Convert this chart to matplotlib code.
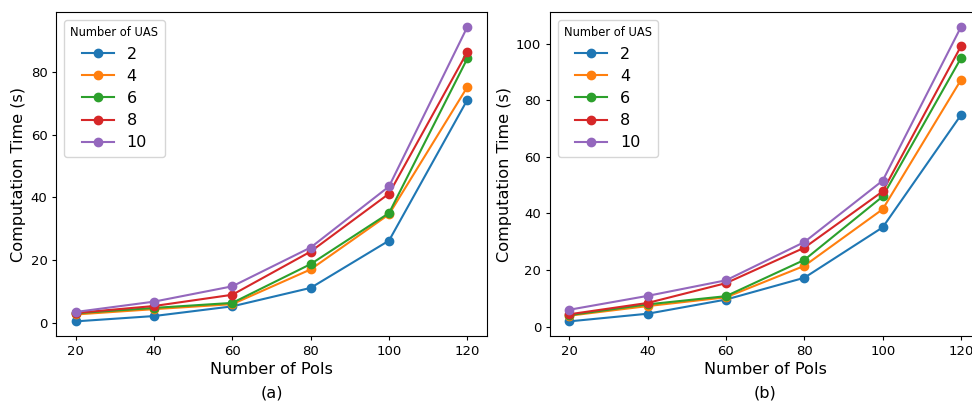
import matplotlib.pyplot as plt

pois = [20, 40, 60, 80, 100, 120]
uas_counts = [2, 4, 6, 8, 10]

# panel (a)
time_a = {
    2:  [0.4, 2.1, 5.2, 11.1, 26.2, 71.2],
    4:  [2.6, 4.3, 5.9, 17.0, 34.6, 75.3],
    6:  [3.0, 4.7, 6.3, 18.7, 35.0, 84.4],
    8:  [3.1, 5.3, 8.9, 22.7, 41.2, 86.5],
    10: [3.4, 6.7, 11.6, 24.0, 43.5, 94.5],
}

# panel (b)
time_b = {
    2:  [1.9, 4.6, 9.6, 17.3, 35.1, 74.8],
    4:  [3.9, 7.3, 10.4, 21.5, 41.5, 87.2],
    6:  [4.1, 7.9, 10.8, 23.6, 46.0, 94.9],
    8:  [4.4, 8.4, 15.4, 27.9, 47.8, 99.1],
    10: [6.0, 10.9, 16.4, 29.9, 51.6, 105.9],
}

fig = plt.figure(figsize=(9.72, 4.03), dpi=100)
ax_a = fig.add_axes([0.0576, 0.166, 0.4434, 0.804])
ax_b = fig.add_axes([0.5655, 0.166, 0.4434, 0.804])

for ax, data, tag in ((ax_a, time_a, "(a)"), (ax_b, time_b, "(b)")):
    for n in uas_counts:
        ax.plot(pois, data[n], marker="o", label=str(n))
    ax.set_xticks(pois)
    ax.tick_params(labelsize=9.5, length=3.2, pad=3)
    ax.set_xlabel("Number of PoIs", fontsize=11.6, labelpad=3)
    ax.set_ylabel("Computation Time (s)", fontsize=11.6, labelpad=3)
    ax.legend(title="Number of UAS", loc="upper left",
              fontsize=11.5, title_fontsize=8.3, labelspacing=0.45)
    ax.text(0.5, -0.176, tag, transform=ax.transAxes,
            ha="center", va="center", fontsize=11.6)

fig.savefig("out.png", dpi=100)
